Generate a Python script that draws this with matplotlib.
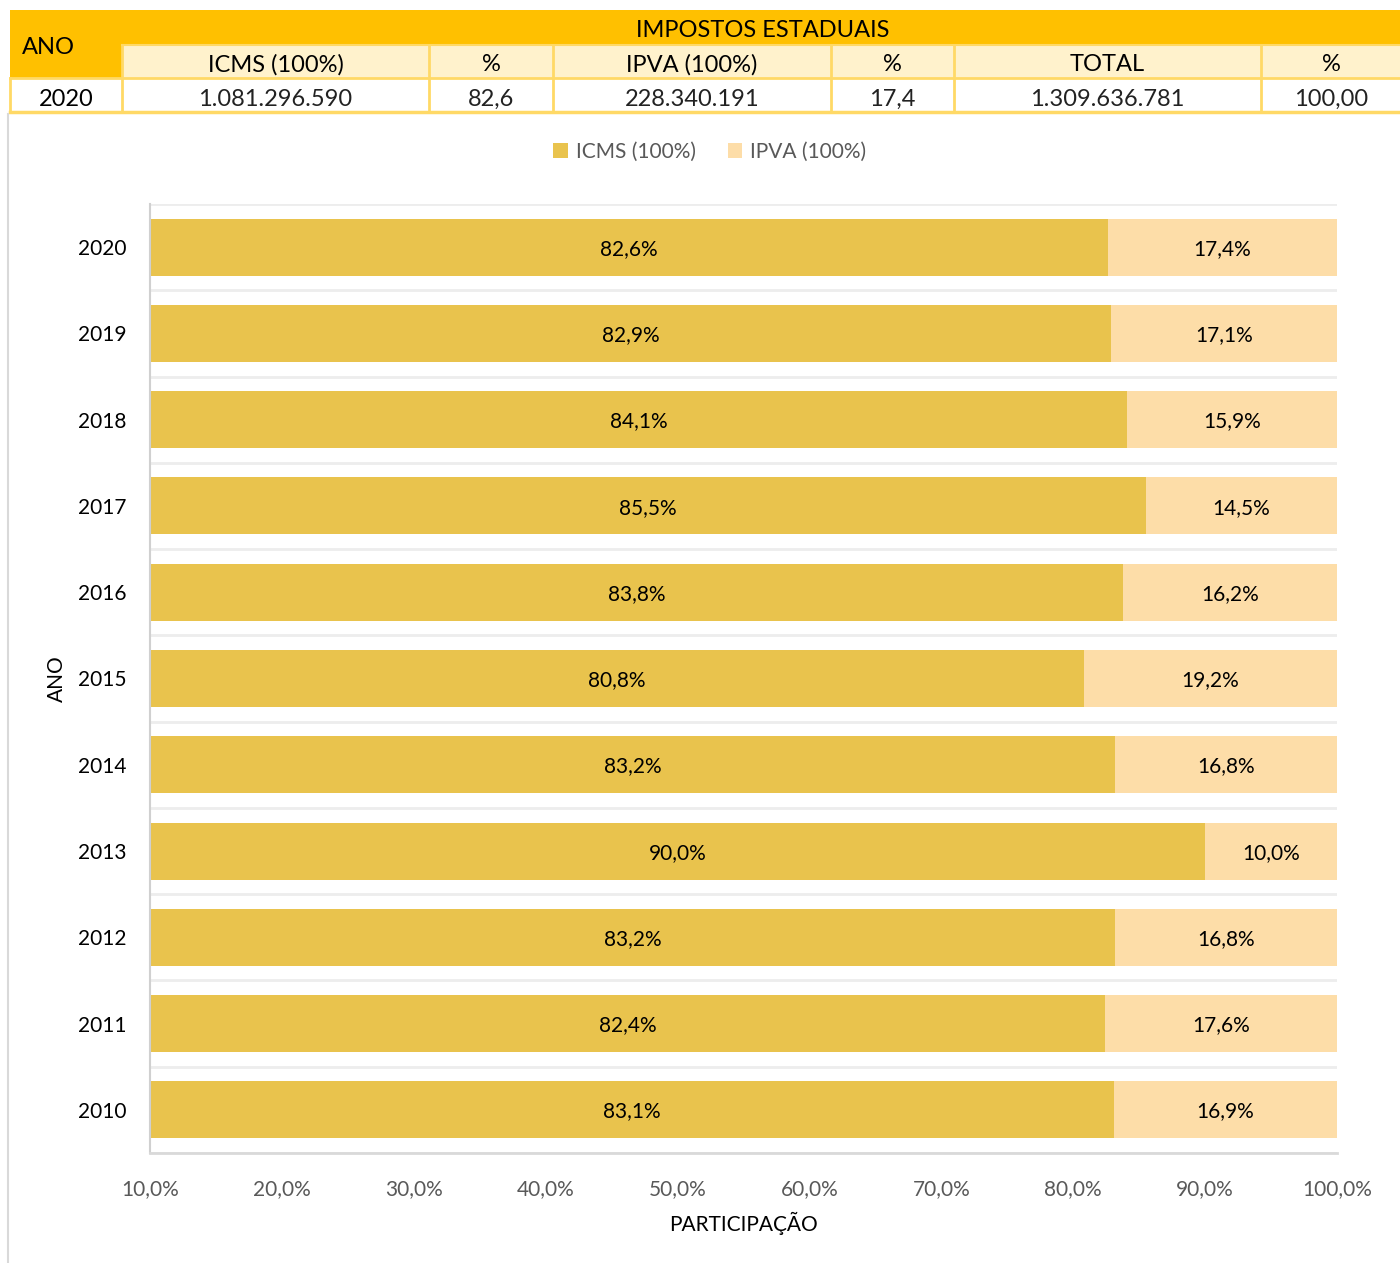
import matplotlib.pyplot as plt
import matplotlib.patches as mpatches
import numpy as np

plt.rcParams['font.family'] = ['Lato', 'DejaVu Sans']

# dados
anos = ['2020', '2019', '2018', '2017', '2016', '2015', '2014', '2013', '2012', '2011', '2010']
icms = [82.6, 82.9, 84.1, 85.5, 83.8, 80.8, 83.2, 90.0, 83.2, 82.4, 83.1]
ipva = [17.4, 17.1, 15.9, 14.5, 16.2, 19.2, 16.8, 10.0, 16.8, 17.6, 16.9]

tab_cab = ['ICMS (100%)', '%', 'IPVA (100%)', '%', 'TOTAL', '%']
tab_val = ['1.081.296.590', '82,6', '228.340.191', '17,4', '1.309.636.781', '100,00']
tab_ano = '2020'

COR_ICMS = '#E9C34D'
COR_IPVA = '#FDDDA8'
LARANJA = '#FFC000'
CREME = '#FFF2CC'
BORDA = '#FFD966'

W, H = 1400, 1263
fig = plt.figure(figsize=(W / 100, H / 100), dpi=100)

# camada em pixels para a tabela e moldura
bg = fig.add_axes([0, 0, 1, 1])
bg.set_xlim(0, W)
bg.set_ylim(H, 0)
bg.axis('off')

cols = [10, 122, 429, 553, 831, 954, 1261, 1400]
r0, r1, r2, r3 = 10, 45, 78, 112

# cabecalho laranja
bg.add_patch(mpatches.Rectangle((10, r0), W - 10, r1 - r0, color=LARANJA, lw=0))
bg.add_patch(mpatches.Rectangle((10, r1), 112, r2 - r1, color=LARANJA, lw=0))
bg.add_patch(mpatches.Rectangle((122, r1), W - 122, r2 - r1, color=CREME, lw=0))
bg.text(48, (r0 + r2) / 2 + 3, 'ANO', ha='center', va='center', fontsize=17, color='black')
bg.text((122 + 1400) / 2 + 2, (r0 + r1) / 2 + 3, 'IMPOSTOS ESTADUAIS', ha='center', va='center',
        fontsize=17, color='black')

for i, t in enumerate(tab_cab):
    xc = (cols[i + 1] + cols[i + 2]) / 2
    if i == 5:
        xc = 1331
    bg.text(xc, (r1 + r2) / 2 + 3, t, ha='center', va='center', fontsize=17, color='black')
    bg.text(xc, (r2 + r3) / 2 + 4, tab_val[i], ha='center', va='center', fontsize=17,
            color='#222222')
bg.text(66, (r2 + r3) / 2 + 4, tab_ano, ha='center', va='center', fontsize=17, color='black')

# bordas da tabela
for x in cols[1:-1]:
    bg.plot([x, x], [r1, r3], color=BORDA, lw=2)
bg.plot([122, W], [r1, r1], color=BORDA, lw=1.5)
bg.plot([10, W], [r2, r2], color=BORDA, lw=2)
bg.plot([10, W], [r3, r3], color=BORDA, lw=2.5)
bg.plot([10, 10], [r2, r3], color=BORDA, lw=2)

# moldura do grafico
bg.plot([8, 8], [114, H], color='#D9D9D9', lw=1.5)

# grafico
ax = fig.add_axes([150 / W, 1 - 1153 / H, (1337 - 150) / W, (1153 - 204) / H])
y = np.arange(len(anos))
icms_arr = np.array(icms)
ipva_arr = np.array(ipva)
ax.barh(y, icms_arr, height=0.66, color=COR_ICMS, label='ICMS (100%)')
ax.barh(y, ipva_arr, left=icms_arr, height=0.66, color=COR_IPVA, label='IPVA (100%)')

xmin, xmax = 10, 100
ax.set_xlim(xmin, xmax)
ax.set_ylim(len(anos) - 0.5, -0.5)

for i in range(len(anos)):
    x1 = (xmin + icms_arr[i]) / 2
    x2 = icms_arr[i] + ipva_arr[i] / 2
    ax.text(x1, y[i] + 0.02, f'{icms[i]:.1f}%'.replace('.', ','), ha='center', va='center',
            fontsize=15, color='black')
    ax.text(x2, y[i] + 0.02, f'{ipva[i]:.1f}%'.replace('.', ','), ha='center', va='center',
            fontsize=15, color='black')

# linhas de grade entre categorias
for b in np.arange(-0.5, len(anos), 1):
    ax.axhline(b, color='#EDEDED', lw=2, zorder=0)

ax.set_yticks(y)
ax.set_yticklabels(anos, fontsize=15, color='black')
xt = np.arange(10, 101, 10)
ax.set_xticks(xt)
ax.set_xticklabels([f'{v:.1f}%'.replace('.', ',') for v in xt], fontsize=15, color='#595959')
ax.tick_params(length=0)
ax.tick_params(axis='y', pad=17)
ax.tick_params(axis='x', pad=19)

for s in ['top', 'right']:
    ax.spines[s].set_visible(False)
ax.spines['left'].set_color('#D0D0D0')
ax.spines['left'].set_linewidth(1.5)
ax.spines['bottom'].set_color('#D9D9D9')
ax.spines['bottom'].set_linewidth(2)

ax.set_xlabel('PARTICIPAÇÃO', fontsize=15, color='black', labelpad=9)
ax.set_ylabel('ANO', fontsize=15, color='black', labelpad=8)

leg = fig.legend(loc='center', bbox_to_anchor=(710 / W, 1 - 152 / H), ncol=2, frameon=False,
                 fontsize=15, handlelength=0.7, handleheight=0.7, handletextpad=0.4,
                 columnspacing=1.5)
for t in leg.get_texts():
    t.set_color('#595959')

fig.savefig('out.png', dpi=100)
